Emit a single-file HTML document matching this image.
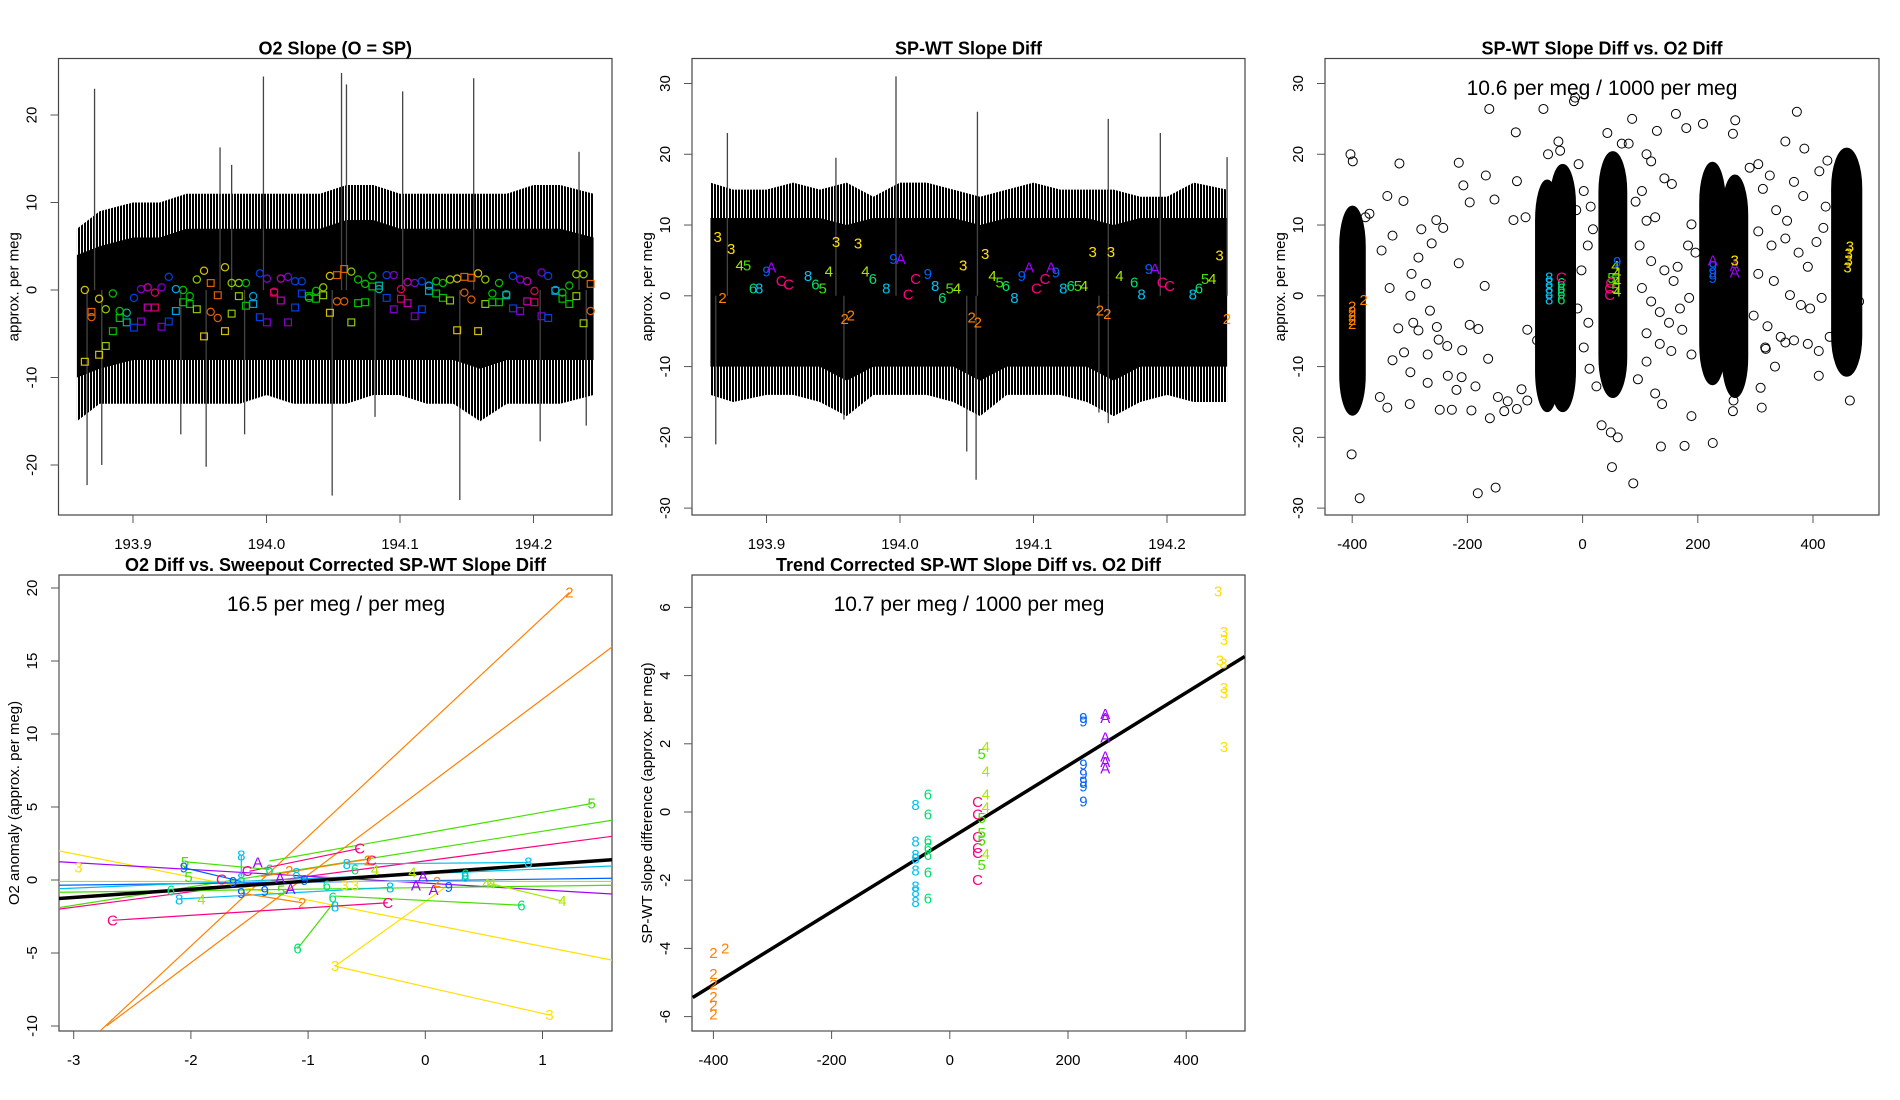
<!DOCTYPE html>
<html><head><meta charset="utf-8">
<style>
html,body{margin:0;padding:0;background:#fff;}
svg{display:block;font-family:"Liberation Sans",Arial,sans-serif;}
</style></head>
<body>
<svg id="chart" width="1900" height="1100" viewBox="0 0 1900 1100" xmlns="http://www.w3.org/2000/svg">
<rect x="0" y="0" width="1900" height="1100" fill="#fff"/>
<defs>
<clipPath id="c1"><rect x="58.5" y="58.5" width="553.5" height="456.5"/></clipPath>
<clipPath id="c2"><rect x="692" y="58.5" width="553" height="456.5"/></clipPath>
<clipPath id="c3"><rect x="1325" y="58.5" width="554" height="456.5"/></clipPath>
<clipPath id="c4"><rect x="59" y="575" width="553" height="456"/></clipPath>
<clipPath id="c5"><rect x="692" y="575" width="553" height="456"/></clipPath>
<pattern id="stripes" width="3" height="10" patternUnits="userSpaceOnUse"><rect x="0" y="0" width="2" height="10" fill="#000"/></pattern>
</defs>
</svg>
<script>
// ---------- Panel 1 data (O2 slope) ----------
const envT = [193.858,193.875,193.9,193.92,193.94,193.96,193.98,194.0,194.02,194.04,194.06,194.08,194.1,194.12,194.14,194.16,194.18,194.2,194.22,194.245];
const p1OuterUp = [7,9,10,10,11,11,11,11,11,11,12,12,11,11,11,11,11,12,12,11];
const p1OuterLo = [-15,-13,-13,-13,-13,-13,-13,-12,-13,-13,-13,-12,-12,-13,-13,-15,-13,-13,-13,-12];
const p1CoreUp = [4,5,6,6,7,7,7,7,7,7,8,8,7,7,7,7,7,7,7,6];
const p1CoreLo = [-10,-9,-8,-8,-8,-8,-8,-8,-8,-8,-8,-8,-8,-8,-8,-9,-8,-8,-8,-8];
const p1SpikeT = [193.8712,193.9977,194.0562,194.0599,194.1020,194.1552,193.9652,193.9739,194.2341,194.0492,194.1448,193.8656,193.9548,193.8766,193.9358,194.2050,194.2395,193.9836,194.0813];
const p1SpikeV = [23,24.4,24.8,23.5,22.7,24.2,16.3,14.3,15.8,-23.5,-24,-22.3,-20.2,-20,-16.5,-17.3,-15.5,-16.5,-14.5];
const markerT = [193.8639,193.8689,193.8746,193.8796,193.8849,193.8900,193.8953,193.9007,193.9060,193.9110,193.9164,193.9214,193.9268,193.9321,193.9375,193.9425,193.9478,193.9532,193.9582,193.9635,193.9689,193.9739,193.9793,193.9846,193.9900,193.9950,194.0003,194.0057,194.0107,194.0161,194.0214,194.0264,194.0318,194.0371,194.0425,194.0475,194.0528,194.0582,194.0635,194.0686,194.0739,194.0793,194.0843,194.0900,194.0953,194.1007,194.1057,194.1110,194.1164,194.1217,194.1271,194.1321,194.1375,194.1428,194.1482,194.1535,194.1585,194.1639,194.1692,194.1742,194.1796,194.1846,194.1900,194.1953,194.2007,194.2060,194.2110,194.2164,194.2217,194.2268,194.2321,194.2375,194.2428];
const circleV = [0,-3.1,-1.0,-2.2,-0.4,-2.4,-2.6,-0.9,0.1,0.3,-0.3,0.3,1.5,0.1,0,-0.7,1.2,2.2,-2.5,-3.2,2.6,0.8,0.8,0.8,-0.7,1.9,1.3,-0.2,1.3,1.5,1.0,1.0,-0.9,-0.1,0.3,1.6,-1.3,-1.3,2.1,1.2,0.7,1.6,0.1,1.7,1.7,0.1,0.9,0.8,1.0,0.5,1.0,0.8,1.2,1.3,-0.3,-1.1,1.9,1.2,-0.4,0.8,-0.5,1.6,1.2,1.0,-0.1,2.0,1.6,0,-0.3,0.5,1.8,1.8,-2.4];
const squareV = [-8.2,-2.5,-7.4,-6.4,-4.7,-3.2,-3.7,-4.3,-3.6,-2.0,-2.0,-4.2,-3.6,-2.4,-1.4,-1.6,-2.2,-5.3,0.8,-0.6,-4.7,-2.7,-0.7,-1.8,-1.6,-3.1,-3.7,-0.3,-1.2,-3.7,-2.0,-0.4,-0.7,-1.0,-0.6,-2.6,1.7,2.4,-3.7,-1.5,-1.4,0.4,0.5,-0.9,-2.2,-1.0,-1.5,-3.0,-2.2,-0.1,-0.4,-0.9,-1.2,-4.6,1.5,1.4,-4.7,-1.6,-1.4,-1.4,-0.6,-2.1,-2.4,-1.3,-1.4,-3.0,-3.2,-0.1,-1.0,-1.6,-0.7,-3.8,0.7];
const markerColorCodes = "yoylggtbpmrpbcgglyooyllgcbprmpbbgglyoolgggtbprmpbcgglyooylggtbpmrpbcggllo";
// ---------- Panel 2 data (SP-WT slope diff) ----------
const p2OuterUp = [16,15,15,16,15,16,14,16,16,15,14,15,16,15,15,15,14,14,16,15];
const p2OuterLo = [-14,-15,-14,-14,-15,-17,-14,-14,-14,-15,-17,-14,-14,-14,-15,-17,-15,-14,-15,-15];
const p2CoreUp = [11,11,11,11,11,10,11,11,11,11,10,11,11,11,11,10,11,11,11,11];
const p2CoreLo = [-10,-10,-10,-10,-10,-12,-10,-10,-10,-10,-12,-10,-10,-10,-10,-12,-10,-10,-10,-10];
const p2SpikeT = [193.8707,193.997,193.952,194.156,194.058,193.958,194.057,194.156,193.862,194.195,194.245,194.05,194.149];
const p2SpikeV = [23,31,19.5,25,26,-17.5,-26,-18,-21,23,19.6,-22,-16.5];
const p2LabT = [193.8634,193.8671,193.8735,193.8799,193.8854,193.8899,193.8945,193.9000,193.9037,193.9110,193.9165,193.9311,193.9366,193.9421,193.9467,193.9521,193.9586,193.9631,193.9686,193.9741,193.9796,193.9897,193.9951,194.0006,194.0061,194.0116,194.0208,194.0263,194.0317,194.0372,194.0427,194.0473,194.0537,194.0583,194.0638,194.0693,194.0747,194.0793,194.0857,194.0912,194.0967,194.1022,194.1086,194.1132,194.1168,194.1223,194.1278,194.1333,194.1379,194.1443,194.1498,194.1553,194.1580,194.1644,194.1754,194.1809,194.1864,194.1909,194.1964,194.2019,194.2193,194.2239,194.2285,194.2339,194.2394,194.2449];
const p2LabV = [8.3,-0.3,6.6,4.3,4.3,1.0,1.0,3.4,4.0,2.1,1.6,2.8,1.6,1.0,3.4,7.6,-3.3,-2.8,7.4,3.4,2.4,1.0,5.2,5.2,0.2,2.4,3.1,1.4,-0.3,1.0,1.0,4.3,-3.1,-3.8,5.9,2.8,1.9,1.4,-0.3,2.8,4.0,1.0,2.4,4.0,3.3,1.0,1.4,1.4,1.4,6.2,-2.1,-2.6,6.2,2.8,1.9,0.2,3.8,3.8,1.9,1.4,0.2,1.0,2.4,2.4,5.7,-3.3];
const p2LabChar = "32345689ACC865432234689ACC98654322345689ACCA9865432234689ACC865432";
// ---------- Panel 3 data (scatter) ----------
const clX0 = [-413,-73,-48,37,212,251,441];
const clX1 = [-386,-50,-21,68,239,278,476];
const clYTop = [12.6,16.3,18.5,20.3,18.8,17,20.8];
const clYBot = [-16.8,-16.3,-16.3,-14.3,-12.5,-14.3,-11.3];
const sX = [-318,-339,-311,-280,-262,-254,-242,-215,-207,-196,-168,-162,-153,-116,-114,-120,-99,-349,-330,-335,-297,-285,-272,-265,-299,-320,-294,-285,-269,-253,-250,-235,-215,-209,-196,-181,-170,-164,-299,-310,-330,-352,-339,-300,-269,-248,-234,-227,-219,-210,-193,-186,-182,-161,-151,-147,-136,-130,-114,-106,-96,-96,-79,-387,-401,-403,-399,-377,-370,-60,-42,-39,-15,-13,-68,-7,2,-11,14,18,9,-2,-9,10,2,12,24,33,49,51,61,88,68,43,86,80,111,129,162,180,209,119,142,155,103,92,111,126,99,119,142,158,165,183,189,196,103,119,134,150,169,185,111,134,154,173,189,96,111,126,138,136,177,189,226,262,261,265,261,290,305,313,325,352,372,385,367,383,336,355,305,328,352,375,391,406,418,305,332,360,379,395,415,297,321,344,367,391,410,352,317,309,311,334,318,410,429,422,425,411,464,480];
const sY = [18.7,14.1,13.4,9.4,7.4,10.7,9.6,18.8,15.6,13.2,17,26.4,13.6,23.1,16.2,10.7,11.1,6.4,8.5,1.1,3.1,5.4,1.7,-2.1,0,-4.6,-3.8,-4.9,-8.3,-4.4,-6.2,-7.1,4.6,-7.7,-4.1,-4.7,1.4,-8.9,-10.8,-8.0,-9.1,-14.3,-15.8,-15.3,-12.3,-16.1,-11.3,-16.1,-13.3,-11.5,-16.2,-12.8,-27.9,-17.3,-27.1,-14.3,-16.3,-14.9,-16,-13.2,-14.8,-4.8,-6.3,-28.6,-22.4,20,19,11.1,11.6,20,21.8,20.5,27.5,28,26.4,18.6,14.8,12.1,12.6,9.4,7.1,3.6,-1.8,-3.8,-7.3,-10.3,-12.8,-18.3,-19.3,-24.2,-20,-26.5,21.5,23,25,21.5,20,23.3,25.7,23.7,24.3,19,16.6,15.8,14.8,13.3,10.6,11.1,7.1,4.9,3.6,2.1,4.1,7.1,10.1,6.1,1.1,-0.8,-2.3,-3.8,-1.8,-0.3,-5.3,-6.8,-7.8,-4.8,-8.3,-11.8,-9.3,-13.8,-15.3,-21.3,-21.2,-17,-20.8,-14.8,-16.3,24.8,22.9,18.1,18.6,15.1,17,21.8,26,20.8,16.1,14.1,12.1,10.6,9.1,7.1,8.1,6.1,4.1,7.6,9.6,3.1,2.1,0.1,-1.3,-1.8,-0.3,-2.8,-4.3,-5.8,-6.3,-6.8,-7.8,-6.6,-7.3,-13,-15.8,-10,-7.5,-11.3,-5.8,12.6,19.1,17.6,-14.8,-0.8];
const p3LabChar = "222222888886666CCCC55544449999AAA33333";
const p3LabX = [-400,-400,-400,-400,-400,-380,-58,-58,-58,-58,-58,-37,-37,-37,-37,-37,47,47,49,50,57,57,57,60,60,60,60,226,226,226,226,264,264,264,460,462,462,464,462];
const p3LabY = [-1.5,-2.2,-2.8,-3.4,-4.0,-0.6,-0.5,0.3,1.0,1.8,2.6,-0.5,0.3,1.0,1.8,2.6,0.1,1.0,1.8,2.5,1,2.5,4.2,0.6,2,3.2,4.8,2.5,3.3,4.2,5.0,3.3,4.2,5.0,4.0,5.0,6.0,7.0,8.3];
// ---------- Panel 4 data ----------
const segX0 = [-2.77,-2.72,-1.33,-3.13,-3.13,-3.13,-0.77,-0.77,-3.13,-3.13,-3.13,-3.13,-3.13,-2.67,0.82,-1.09,1.17,-2.1,-1.57,-2.06,-0.67,-1.5,-1.4,-1.05,-2.05];
const segY0 = [-10.3,-10.0,1.3,-1.9,-2.0,2.0,-5.9,-5.9,1.25,-0.36,-0.6,-0.84,-0.1,-2.76,-1.73,-4.7,-1.44,-1.3,1.7,0.84,1.1,0.6,0.24,-1.56,1.25];
const segX1 = [1.23,1.6,1.42,1.6,1.6,1.6,1.06,0.17,1.6,1.6,1.6,1.6,1.6,-0.32,-0.77,-0.77,0.55,-0.29,-1.57,-1.57,0.88,-0.56,-0.48,-1.57,-1.33];
const segY1 = [19.7,16.0,5.24,4.1,3.0,-5.5,-9.25,-0.5,-0.96,0.12,0.96,-0.36,-0.1,-1.56,-1.1,-1.44,-0.24,-0.5,0.24,-0.1,1.2,2.16,1.44,-0.9,0.72];
const segColorCodes = "ooggryyypbcglrgglccbcroog";
const p4LabChar = "2535598A6CC982A999A528684C633CC2864C866338AAA2946844468";
const p4LabX = [1.23,1.42,-2.96,-2.05,-2.02,-2.06,-1.57,-1.43,-1.33,-1.52,-1.74,-1.64,-1.57,-1.16,-1.24,-1.03,-1.37,-1.57,-1.15,-1.23,-1.05,-1.1,-2.17,-2.1,-1.91,-2.67,-1.09,-0.77,1.06,-0.56,-0.46,-0.49,-0.67,-0.6,-0.43,-0.32,-0.77,-0.79,-0.84,-0.6,-0.69,-0.3,-0.08,-0.02,0.07,0.1,0.2,-0.11,0.34,0.34,0.52,0.57,1.17,0.82,0.88];
const p4LabY = [19.7,5.24,0.84,1.25,0.2,0.84,1.68,1.2,0.72,0.6,0.05,-0.12,0.12,0.6,0.12,0,-0.77,-0.9,-0.6,-0.72,-1.56,0.48,-0.72,-1.32,-1.32,-2.76,-4.69,-5.89,-9.25,2.16,1.32,1.32,1.08,0.72,0.67,-1.56,-1.8,-1.2,-0.36,-0.36,-0.36,-0.53,-0.36,0.24,-0.67,-0.12,-0.48,0.53,0.36,0.24,-0.24,-0.24,-1.44,-1.73,1.2];
const p4FitX = [-3.13,1.6];
const p4FitY = [-1.27,1.39];
// ---------- Panel 5 data ----------
const p5LabChar = "333333332222222888888886666666CCCCCC55555444449999999AAAAAA";
const p5LabX = [454,464,464,457,463,464,464,464,-400,-380,-400,-400,-400,-400,-400,-58,-58,-58,-58,-58,-58,-58,-58,-37,-37,-37,-37,-37,-37,-37,47,47,47,47,47,47,54,54,54,54,54,61,61,61,61,61,226,226,226,226,226,226,226,263,263,263,263,263,263];
const p5LabY = [6.46,5.28,5.04,4.45,4.35,3.63,3.48,1.91,-4.14,-4.0,-4.75,-5.06,-5.42,-5.68,-5.94,0.2,-0.87,-1.26,-1.36,-1.72,-2.18,-2.34,-2.64,0.51,-0.07,-0.84,-1.05,-1.26,-1.77,-2.54,0.29,-0.07,-0.74,-1.05,-1.2,-2.0,1.7,-0.17,-0.62,-0.84,-1.56,1.9,1.19,0.52,0.13,-1.23,2.76,2.65,1.4,1.11,0.9,0.75,0.31,2.88,2.76,2.19,1.63,1.47,1.27];
const p5FitX = [-435,499];
const p5FitY = [-5.44,4.56];
// tick arrays
const p1XTicks = [193.9,194.0,194.1,194.2];
const p1YTicks = [-20,-10,0,10,20];
const p2YTicks = [-30,-20,-10,0,10,20,30];
const p3XTicks = [-400,-200,0,200,400];
const p4XTicks = [-3,-2,-1,0,1];
const p4YTicks = [-10,-5,0,5,10,15,20];
const p5XTicks = [-400,-200,0,200,400];
const p5YTicks = [-6,-4,-2,0,2,4,6];

const NS = 'http://www.w3.org/2000/svg';
const svg = document.getElementById('chart');
function mk(tag, attrs, parent) {
  const e = document.createElementNS(NS, tag);
  for (const k in attrs) e.setAttribute(k, attrs[k]);
  (parent || svg).appendChild(e);
  return e;
}
const charColor = {'2':'#FF8000','3':'#FFE000','4':'#A8E800','5':'#44E000','6':'#00E070','8':'#00C0F0','9':'#0060FF','A':'#A000FF','C':'#FF0080'};
const codeColor = {o:'#E06000',y:'#D4C000',l:'#90C800',g:'#00C000',t:'#00B0A0',c:'#00A0E0',b:'#0040E0',p:'#8000D0',m:'#C000B0',r:'#E00060'};
const segColor = {o:'#FF8000',y:'#FFE000',l:'#A8E800',g:'#44E000',r:'#FF0080',c:'#00C0F0',b:'#0060FF',p:'#A000FF'};

const panels = [
  {id:1,L:58.5,R:612,T:58.5,B:515,x:t=>266.5+(t-194)*1335,y:v=>290-v*8.75},
  {id:2,L:692,R:1245,T:58.5,B:515,x:t=>900+(t-194)*1335,y:v=>295.8-v*7.077},
  {id:3,L:1325,R:1879,T:58.5,B:515,x:v=>1582.6+v*0.576,y:v=>295.8-v*7.077},
  {id:4,L:59,R:612,T:575,B:1031,x:v=>425.3+v*117.2,y:v=>880-v*14.6},
  {id:5,L:692,R:1245,T:575,B:1031,x:v=>949.8+v*0.591,y:v=>812-v*34.1}
];

function frame(p, title, ylab, xt, xtl, yt, ytl, titleName) {
  const g = mk('g', {});
  
  
  const box = mk('rect', {x:p.L, y:p.T, width:p.R-p.L, height:p.B-p.T, fill:'none', stroke:'#444', 'stroke-width':1.2}, g);
  
  
  const t = mk('text', {x:(p.L+p.R)/2, y:p.T-4, 'text-anchor':'middle', 'font-size':18, 'font-weight':'bold'}, g);
  t.textContent = title;
  
  
  const xa = mk('line', {x1:p.x(xt[0]), x2:p.x(xt[xt.length-1]), y1:p.B, y2:p.B, stroke:'#555'}, g);
  
  
  xt.forEach((v,i) => {
    const tk = mk('line', {x1:p.x(v), x2:p.x(v), y1:p.B, y2:p.B+8, stroke:'#555'}, g);
    
    
    const lb = mk('text', {x:p.x(v), y:p.B+34, 'text-anchor':'middle', 'font-size':15}, g);
    lb.textContent = xtl[i];
    
    
  });
  const ya = mk('line', {x1:p.L, x2:p.L, y1:p.y(yt[0]), y2:p.y(yt[yt.length-1]), stroke:'#555'}, g);
  
  
  yt.forEach((v,i) => {
    const tk = mk('line', {x1:p.L-8, x2:p.L, y1:p.y(v), y2:p.y(v), stroke:'#555'}, g);
    
    
    const cx = p.L-22, cy = p.y(v);
    const lb = mk('text', {x:cx, y:cy, 'text-anchor':'middle', 'font-size':15, transform:'rotate(-90 '+cx+' '+cy+')'}, g);
    lb.textContent = ytl[i];
    
    
  });
  const cx = p.L-40, cy = (p.T+p.B)/2;
  const yl = mk('text', {x:cx, y:cy, 'text-anchor':'middle', 'font-size':15, transform:'rotate(-90 '+cx+' '+cy+')'}, g);
  yl.textContent = ylab;
  
  
}
function label(p, ch, x, y, color, parent, name) {
  const t = mk('text', {x:p.x(x), y:p.y(y)+5, 'text-anchor':'middle', 'font-size':15, fill:color}, parent);
  t.textContent = ch;
  
  
}
function band(p, up, lo, fill, parent, name) {
  let pts = envT.map((t,i) => p.x(t)+','+p.y(up[i]));
  pts = pts.concat(envT.map((t,i) => p.x(t)+','+p.y(lo[i])).reverse());
  const pg = mk('polygon', {points:pts.join(' '), fill:fill}, parent);
  
  
}

// ===== Panel 1 =====
const P1 = panels[0];
const fmt1 = v => v.toFixed(1);
frame(P1, 'O2 Slope (O = SP)', 'approx. per meg', p1XTicks, p1XTicks.map(fmt1), p1YTicks, p1YTicks.map(String), 'panel-1-title');
const g1 = mk('g', {'clip-path':'url(#c1)'});


band(P1, p1OuterUp, p1OuterLo, 'url(#stripes)', g1, 'noise-outer-band');
band(P1, p1CoreUp, p1CoreLo, '#000', g1, 'noise-core-band');
p1SpikeT.forEach((t,i) => {
  const l = mk('line', {x1:P1.x(t), x2:P1.x(t), y1:P1.y(0), y2:P1.y(p1SpikeV[i]), stroke:'#444', 'stroke-width':1.3}, g1);
  
  
});
markerT.forEach((t,i) => {
  const col = codeColor[markerColorCodes[i]];
  const c = mk('circle', {cx:P1.x(t), cy:P1.y(circleV[i]), r:3.6, fill:'none', stroke:col, 'stroke-width':1.2}, g1);
  
  
  const s = mk('rect', {x:P1.x(t)-3.4, y:P1.y(squareV[i])-3.4, width:6.8, height:6.8, fill:'none', stroke:col, 'stroke-width':1.2}, g1);
  
  
});

// ===== Panel 2 =====
const P2 = panels[1];
frame(P2, 'SP-WT Slope Diff', 'approx. per meg', p1XTicks, p1XTicks.map(fmt1), p2YTicks, p2YTicks.map(String), 'panel-2-title');
const g2 = mk('g', {'clip-path':'url(#c2)'});


band(P2, p2OuterUp, p2OuterLo, 'url(#stripes)', g2, 'noise-outer-band');
band(P2, p2CoreUp, p2CoreLo, '#000', g2, 'noise-core-band');
p2SpikeT.forEach((t,i) => {
  const l = mk('line', {x1:P2.x(t), x2:P2.x(t), y1:P2.y(0), y2:P2.y(p2SpikeV[i]), stroke:'#444', 'stroke-width':1.3}, g2);
  
  
});
p2LabT.forEach((t,i) => label(P2, p2LabChar[i], t, p2LabV[i], charColor[p2LabChar[i]], g2, 'station-label'));

// ===== Panel 3 =====
const P3 = panels[2];
frame(P3, 'SP-WT Slope Diff vs. O2 Diff', 'approx. per meg', p3XTicks, p3XTicks.map(String), p2YTicks, p2YTicks.map(String), 'panel-3-title');
const g3 = mk('g', {'clip-path':'url(#c3)'});


clX0.forEach((x0,i) => {
  const xa = P3.x(x0), xb = P3.x(clX1[i]), ya = P3.y(clYTop[i]), yb = P3.y(clYBot[i]);
  const w = xb-xa;
  const r = mk('rect', {x:xa-4.5, y:ya, width:w+9, height:yb-ya, rx:(w+9)/2, ry:40, fill:'#000', stroke:'#000', 'stroke-width':2}, g3);
  
  
});
sX.forEach((x,i) => {
  const c = mk('circle', {cx:P3.x(x), cy:P3.y(sY[i]), r:4.5, fill:'none', stroke:'#000', 'stroke-width':1}, g3);
  
  
});
p3LabX.forEach((x,i) => label(P3, p3LabChar[i], x, p3LabY[i], charColor[p3LabChar[i]], g3, 'station-label'));
const a3 = mk('text', {x:1602, y:95, 'text-anchor':'middle', 'font-size':21});
a3.textContent = '10.6 per meg / 1000 per meg';



// ===== Panel 4 =====
const P4 = panels[3];
frame(P4, 'O2 Diff vs. Sweepout Corrected SP-WT Slope Diff', 'O2 anomaly (approx. per meg)', p4XTicks, p4XTicks.map(String), p4YTicks, p4YTicks.map(String), 'panel-4-title');
const g4 = mk('g', {'clip-path':'url(#c4)'});


segX0.forEach((x0,i) => {
  const l = mk('line', {x1:P4.x(x0), y1:P4.y(segY0[i]), x2:P4.x(segX1[i]), y2:P4.y(segY1[i]), stroke:segColor[segColorCodes[i]], 'stroke-width':1.2}, g4);
  
  
});
const f4 = mk('line', {x1:P4.x(p4FitX[0]), y1:P4.y(p4FitY[0]), x2:P4.x(p4FitX[1]), y2:P4.y(p4FitY[1]), stroke:'#000', 'stroke-width':3.5}, g4);


p4LabX.forEach((x,i) => label(P4, p4LabChar[i], x, p4LabY[i], charColor[p4LabChar[i]], g4, 'station-label'));
const a4 = mk('text', {x:336, y:611, 'text-anchor':'middle', 'font-size':21});
a4.textContent = '16.5 per meg / per meg';



// ===== Panel 5 =====
const P5 = panels[4];
frame(P5, 'Trend Corrected SP-WT Slope Diff vs. O2 Diff', 'SP-WT slope difference (approx. per meg)', p5XTicks, p5XTicks.map(String), p5YTicks, p5YTicks.map(String), 'panel-5-title');
const g5 = mk('g', {'clip-path':'url(#c5)'});


const f5 = mk('line', {x1:P5.x(p5FitX[0]), y1:P5.y(p5FitY[0]), x2:P5.x(p5FitX[1]), y2:P5.y(p5FitY[1]), stroke:'#000', 'stroke-width':3.5}, g5);


p5LabX.forEach((x,i) => label(P5, p5LabChar[i], x, p5LabY[i], charColor[p5LabChar[i]], g5, 'station-label'));
const a5 = mk('text', {x:969, y:611, 'text-anchor':'middle', 'font-size':21});
a5.textContent = '10.7 per meg / 1000 per meg';


</script>
</body></html>
